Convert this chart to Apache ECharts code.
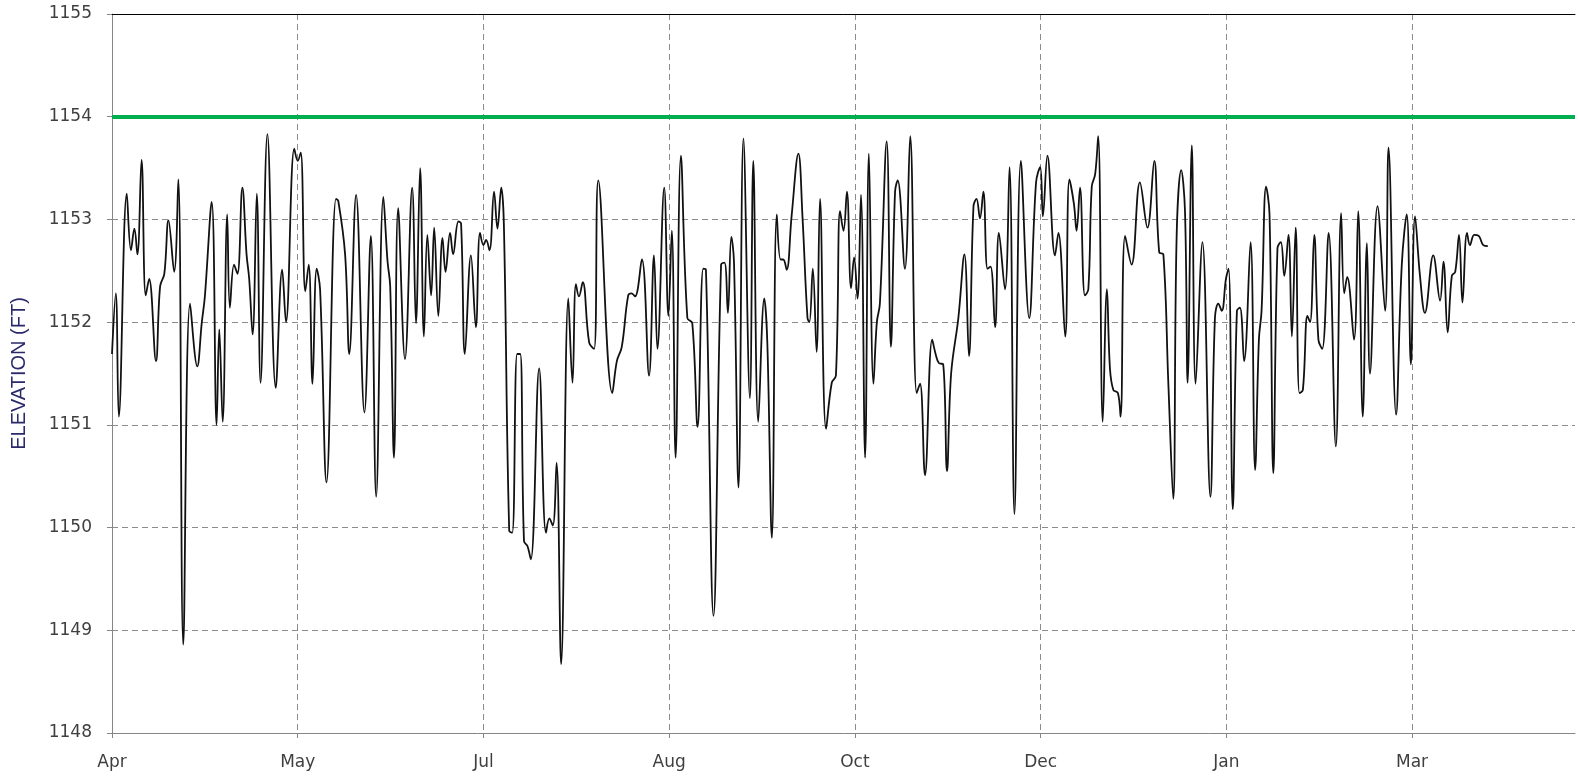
<!DOCTYPE html>
<html>
<head>
<meta charset="utf-8">
<script src="https://cdn.jsdelivr.net/npm/echarts@6/dist/echarts.min.js"></script>
<style>
  html, body { margin: 0; padding: 0; background: #fff; }
  #chart { width: 1578px; height: 776px; }
</style>
</head>
<body>
<div id="chart"></div>
<script>
// x in days since the first tick (Apr), ticks every 49 days
var monthLabels = ["Apr", "May", "Jul", "Aug", "Oct", "Dec", "Jan", "Mar"];
var tickStep = 49;
var axisMaxDay = 386;
var targetElevation = 1154;

var days = [
  0, 1.0, 1.8, 3.9, 5.0, 5.9, 6.7, 7.8, 8.9, 9.8, 11.6, 12.7, 13.8, 14.9, 16.4, 17.5, 18.8, 20.6, 22.5, 23.7, 24.5, 26.3, 27.6, 28.3, 29.2, 30.4,
  31.1, 32.2, 33.1, 34.4, 35.5, 36.2, 37.1, 38.2, 39.2, 41.0, 43.2, 44.9, 45.9, 48.1, 49.0, 49.8, 51.0, 51.9, 52.9, 54.0, 54.9, 56.6, 59.1, 59.7, 61.5, 62.6, 64.4,
  66.6, 68.3, 69.7, 71.6, 72.7, 73.4, 74.4, 75.5, 77.3, 79.2, 80.2, 81.3, 82.3, 83.2, 84.2, 85.0, 86.1, 87.2, 88.0, 89.2, 90.0, 91.4, 92.1, 93.1, 94.7, 96.0, 97.1,
  98.0, 98.7, 99.6, 100.8, 101.7, 102.7, 103.4, 104.8, 105.6, 106.9, 107.7, 108.7, 109.6, 110.5, 112.7, 114.5, 115.4, 116.3, 117.3, 118.5, 120.4, 121.5, 122.4, 123.2, 124.2, 125.9, 127.2, 128.3,
  132.0, 133.2, 134.5, 136.2, 137.1, 138.0, 139.8, 141.7, 143.0, 143.9, 145.7, 146.8, 147.7, 148.7, 150.1, 151.8, 153.1, 154.5, 156.0, 156.7, 158.7, 160.7, 161.6, 162.5, 163.4,
  164.1, 165.3, 166.6, 168.3, 169.2, 170.5, 172.1, 172.9, 174.1, 175.4, 176.4, 177.1, 178.0, 179.3, 181.1, 182.2, 183.5, 184.0, 184.9, 185.9, 186.8, 188.4, 189.9, 191.0, 192.1, 193.0, 193.9, 195.0, 195.8,
  196.7, 197.6, 198.7, 199.7, 200.9, 201.8, 202.6, 204.4, 205.5, 206.6, 207.3, 209.2, 210.6, 212.3, 213.2, 214.5, 216.4, 217.3, 218.2, 219.3, 220.3, 221.4, 223.3, 224.9, 226.1, 227.3, 228.1, 229.0,
  229.9, 231.0, 231.8, 233.0, 234.0, 235.6, 236.8, 238.1, 239.8, 242.0, 243.8, 244.9, 245.6, 246.8, 248.8, 249.7, 251.5, 252.6, 253.8, 254.5, 255.4, 256.7, 257.6, 258.5, 259.4, 260.2, 261.4, 262.5,
  263.3, 264.2, 265.4, 266.1, 267.3, 269.0, 271.2, 273.2, 275.0, 276.3, 277.4, 278.7, 280.0, 280.9, 282.1, 283.1, 283.8, 284.9, 285.9, 287.7, 289.8, 291.0, 291.9, 292.8, 293.9, 294.6,
  295.7, 296.8, 297.6, 298.7, 300.4, 301.6, 302.6, 303.3, 304.5, 305.4, 306.4, 307.5, 308.4, 309.3, 310.4, 311.3, 312.3, 313.3, 314.2, 315.4, 316.1, 317.2, 318.3, 319.3, 321.0, 322.9, 324.3, 325.1, 325.9, 327.7,
  328.8, 330.0, 331.1, 331.9, 333.9, 335.9, 336.8, 338.8, 340.3, 341.6, 342.7, 343.8, 345.1, 346.4, 348.6, 350.4, 351.3, 352.4, 353.5, 354.4, 355.4, 356.3, 357.5, 358.3, 359.4, 360.6, 361.8, 363.0
];

var elevation = [
  1151.69, 1152.28, 1151.08, 1153.25, 1152.70, 1152.91, 1152.66, 1153.58, 1152.26, 1152.42, 1151.62, 1152.35, 1152.47, 1152.99, 1152.49, 1153.39, 1148.86, 1152.18, 1151.57, 1152.00, 1152.25, 1153.17, 1151.00, 1151.93, 1151.03, 1153.05,
  1152.14, 1152.56, 1152.47, 1153.31, 1152.66, 1152.42, 1151.88, 1153.25, 1151.41, 1153.83, 1151.36, 1152.51, 1152.00, 1153.69, 1153.57, 1153.65, 1152.30, 1152.56, 1151.40, 1152.52, 1152.32, 1150.44, 1153.20, 1153.18, 1152.66, 1151.69, 1153.24,
  1151.12, 1152.84, 1150.30, 1153.22, 1152.59, 1152.35, 1150.68, 1153.11, 1151.64, 1153.31, 1151.99, 1153.50, 1151.86, 1152.85, 1152.26, 1152.92, 1152.06, 1152.82, 1152.49, 1152.87, 1152.66, 1152.98, 1152.96, 1151.69, 1152.65, 1151.95, 1152.87,
  1152.75, 1152.80, 1152.70, 1153.27, 1152.91, 1153.31, 1152.94, 1149.97, 1149.95, 1151.69, 1151.69, 1149.87, 1149.82, 1149.69, 1151.55, 1149.95, 1150.09, 1150.02, 1150.63, 1148.67, 1152.23, 1151.41, 1152.37, 1152.25, 1152.39, 1151.80, 1151.74, 1153.38,
  1151.31, 1151.62, 1151.76, 1152.26, 1152.28, 1152.25, 1152.61, 1151.48, 1152.65, 1151.74, 1153.31, 1152.06, 1152.89, 1150.68, 1153.62, 1152.04, 1151.99, 1150.98, 1152.52, 1152.51, 1149.14, 1152.56, 1152.58, 1152.09, 1152.83,
  1152.59, 1150.39, 1153.79, 1151.26, 1153.57, 1151.03, 1152.23, 1151.80, 1149.90, 1153.05, 1152.61, 1152.61, 1152.51, 1153.03, 1153.64, 1153.01, 1152.04, 1152.00, 1152.52, 1151.71, 1153.20, 1150.96, 1151.41, 1151.48, 1153.08, 1152.89, 1153.27, 1152.33, 1152.63,
  1152.23, 1153.24, 1150.68, 1153.64, 1151.40, 1152.00, 1152.18, 1153.76, 1151.76, 1153.27, 1153.38, 1152.52, 1153.81, 1151.31, 1151.40, 1150.51, 1151.83, 1151.69, 1151.60, 1151.59, 1150.55, 1151.50, 1152.04, 1152.66, 1151.67, 1153.13, 1153.20, 1153.01,
  1153.27, 1152.52, 1152.54, 1151.95, 1152.87, 1152.32, 1153.51, 1150.13, 1153.57, 1152.04, 1153.36, 1153.51, 1153.03, 1153.62, 1152.65, 1152.87, 1151.86, 1153.39, 1153.15, 1152.89, 1153.31, 1152.26, 1152.32, 1153.32, 1153.44, 1153.81, 1151.03, 1152.32,
  1151.55, 1151.34, 1151.31, 1151.08, 1152.84, 1152.56, 1153.36, 1152.92, 1153.57, 1152.68, 1152.66, 1151.41, 1150.28, 1152.84, 1153.48, 1153.08, 1151.41, 1153.72, 1151.40, 1152.78, 1150.30, 1152.04, 1152.18, 1152.11, 1152.42, 1152.52,
  1150.18, 1152.11, 1152.14, 1151.62, 1152.78, 1150.56, 1151.83, 1152.11, 1153.32, 1153.05, 1150.53, 1152.72, 1152.78, 1152.45, 1152.85, 1151.86, 1152.92, 1151.31, 1151.34, 1152.06, 1152.00, 1152.85, 1151.83, 1151.74, 1152.87, 1150.79, 1153.06, 1152.28, 1152.44, 1151.83,
  1153.08, 1151.08, 1152.77, 1151.50, 1153.13, 1152.11, 1153.70, 1151.10, 1152.56, 1153.05, 1151.59, 1153.03, 1152.45, 1152.09, 1152.65, 1152.21, 1152.59, 1151.90, 1152.45, 1152.49, 1152.85, 1152.19, 1152.87, 1152.75, 1152.85, 1152.84, 1152.75, 1152.74
];

var lineData = days.map(function (d, i) {
  return [d, elevation[i]];
});

var labelFont = {
  fontFamily: "DejaVu Sans",
  fontSize: 17,
  color: "#3f3f3f",
};

var myChart = echarts.init(document.getElementById("chart"));
myChart.setOption({
  animation: false,
  grid: {
    left: 112,
    right: 3,
    top: 14,
    bottom: 43,
    containLabel: false,
    outerBoundsMode: "none",
  },
  xAxis: [
    {
      type: "value",
      min: 0,
      max: axisMaxDay,
      interval: tickStep,
      axisLine: { lineStyle: { color: "#868686", width: 1 } },
      axisTick: { show: true, length: 5, lineStyle: { color: "#868686" } },
      axisLabel: Object.assign({}, labelFont, {
        margin: 21,
        showMaxLabel: false,
        formatter: function (v) {
          var i = v / tickStep;
          return Number.isInteger(i) && monthLabels[i] ? monthLabels[i] : "";
        },
      }),
      splitLine: {
        show: true,
        showMinLine: false,
        showMaxLine: false,
        lineStyle: { color: "#8c8c8c", type: [6, 4], width: 1 },
      },
    },
    {
      // top border of the plot
      type: "value",
      position: "top",
      min: 0,
      max: axisMaxDay,
      axisLine: { show: true, lineStyle: { color: "#000", width: 1 } },
      axisTick: { show: false },
      axisLabel: { show: false },
      splitLine: { show: false },
    },
  ],
  yAxis: {
    type: "value",
    min: 1148,
    max: 1155,
    interval: 1,
    name: "ELEVATION (FT)",
    nameLocation: "middle",
    nameGap: 83,
    nameTextStyle: {
      fontFamily: "Liberation Sans",
      fontSize: 20,
      color: "#2a2a6a",
    },
    axisLine: { show: true, lineStyle: { color: "#868686", width: 1 } },
    axisTick: { show: true, length: 5, lineStyle: { color: "#868686" } },
    axisLabel: Object.assign({}, labelFont, {
      margin: 20,
      formatter: function (v) {
        return String(v);
      },
    }),
    splitLine: {
      show: true,
      showMinLine: false,
      lineStyle: { color: "#8c8c8c", type: [6, 4], width: 1 },
    },
  },
  series: [
    {
      type: "line",
      data: lineData,
      smooth: 0.4,
      symbol: "none",
      lineStyle: { color: "#111", width: 1.8 },
      markLine: {
        silent: true,
        symbol: "none",
        label: { show: false },
        lineStyle: { color: "#00b050", width: 4, type: "solid" },
        data: [{ yAxis: targetElevation }],
      },
    },
  ],
});
</script>
</body>
</html>
